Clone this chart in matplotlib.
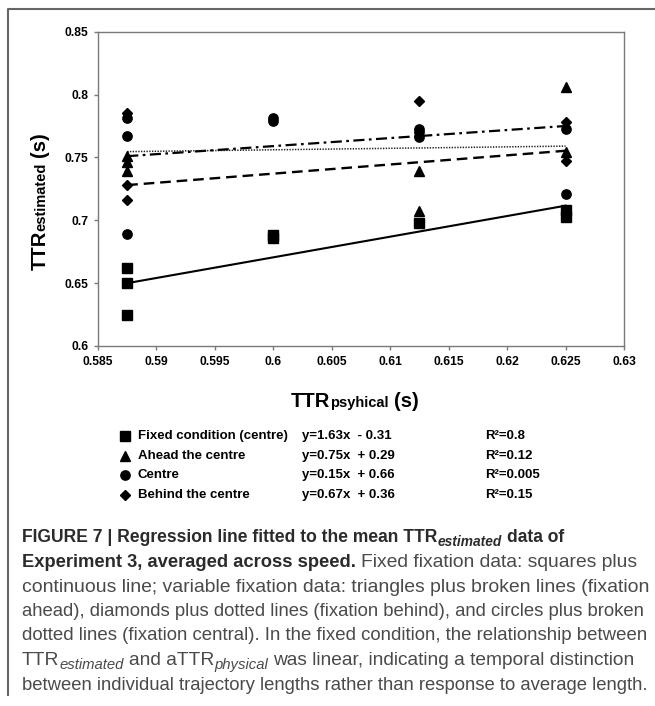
import matplotlib
matplotlib.use("Agg")
import matplotlib.pyplot as plt
from matplotlib.lines import Line2D
from matplotlib.ticker import FormatStrFormatter, MultipleLocator

W, H, DPI = 655, 706, 100
FONT = "Liberation Sans"

# --- data ---------------------------------------------------------------
fixed_x = [0.5875, 0.5875, 0.5875, 0.6, 0.6, 0.6125, 0.625, 0.625]
fixed_y = [0.662, 0.650, 0.625, 0.688, 0.686, 0.698, 0.708, 0.703]

ahead_x = [0.5875, 0.5875, 0.5875, 0.6125, 0.6125, 0.625, 0.625]
ahead_y = [0.751, 0.746, 0.739, 0.739, 0.707, 0.806, 0.754]

centre_x = [0.5875, 0.5875, 0.5875, 0.6, 0.6, 0.6125, 0.6125, 0.6125, 0.625, 0.625]
centre_y = [0.781, 0.767, 0.689, 0.781, 0.779, 0.773, 0.770, 0.766, 0.773, 0.721]

behind_x = [0.5875, 0.5875, 0.5875, 0.6125, 0.625, 0.625]
behind_y = [0.785, 0.728, 0.716, 0.795, 0.778, 0.747]

# regression line end points (x from first to last level)
fit_x = [0.5875, 0.625]
fixed_fit = [0.650, 0.7116]
ahead_fit = [0.728, 0.7553]
centre_fit = [0.7546, 0.759]
behind_fit = [0.751, 0.775]

legend_names = ["Fixed condition (centre)", "Ahead the centre", "Centre", "Behind the centre"]
legend_eqs = ["y=1.63x  - 0.31", "y=0.75x  + 0.29", "y=0.15x  + 0.66", "y=0.67x  + 0.36"]
legend_r2 = ["R\u00b2=0.8", "R\u00b2=0.12", "R\u00b2=0.005", "R\u00b2=0.15"]

fig = plt.figure(figsize=(W / DPI, H / DPI), dpi=DPI)
fig.patch.set_facecolor("white")


def fx(x):
    return x / W


def fy(y):
    return 1 - y / H


ax = fig.add_axes([fx(98), fy(346), (624 - 98) / W, (346 - 31.7) / H])

ax.plot(fit_x, fixed_fit, color="black", lw=1.5, ls="-")
ax.plot(fit_x, ahead_fit, color="black", lw=1.7, ls=(0, (4.5, 2.5)))
ax.plot(fit_x, centre_fit, color="#222222", lw=1.1, ls=(0, (0.9, 0.9)))
ax.plot(fit_x, behind_fit, color="black", lw=1.6, ls=(0, (5, 2, 1.2, 2)))

ax.plot(fixed_x, fixed_y, ls="none", marker="s", ms=7.3, color="black", zorder=3)
ax.plot(ahead_x, ahead_y, ls="none", marker="^", ms=7, color="black", zorder=3)
ax.plot(centre_x, centre_y, ls="none", marker="o", ms=6.7, color="black", zorder=3)
ax.plot(behind_x, behind_y, ls="none", marker="D", ms=5, color="black", zorder=3)

ax.set_xlim(0.585, 0.63)
ax.set_ylim(0.6, 0.85)
ax.xaxis.set_major_locator(MultipleLocator(0.005))
ax.yaxis.set_major_locator(MultipleLocator(0.05))
ax.xaxis.set_major_formatter(FormatStrFormatter("%g"))
ax.yaxis.set_major_formatter(FormatStrFormatter("%g"))
for s in ax.spines.values():
    s.set_color("#7a7a7a")
    s.set_linewidth(1.0)
ax.tick_params(direction="out", length=3, width=1, color="#7a7a7a",
               labelsize=8.7, pad=4)
for lab in ax.get_xticklabels() + ax.get_yticklabels():
    lab.set_fontfamily(FONT)
    lab.set_fontweight("bold")

# outer frame (top and left edges)
fig.add_artist(Line2D([fx(7.5), fx(7.5), fx(655)], [fy(695), fy(9), fy(9)],
                      transform=fig.transFigure, color="#666666", lw=1.5))

renderer = fig.canvas.get_renderer()


def space_width(size, weight, style):
    a = fig.text(0, 0, "a a", fontsize=size, fontweight=weight, fontstyle=style, family=FONT)
    b = fig.text(0, 0, "aa", fontsize=size, fontweight=weight, fontstyle=style, family=FONT)
    w = a.get_window_extent(renderer).width - b.get_window_extent(renderer).width
    a.remove()
    b.remove()
    return w


def runs(x, y, parts, rotation=0, center=False, width=None):
    """Place text pieces one after another along a baseline (pixel coords).

    parts: (text, size, weight, style, dy, color).  With `width`, all sizes
    are scaled so the line spans that many pixels.
    """
    made = []
    pos = 0.0
    for text, size, weight, style, dy, color in parts:
        lead = text.startswith(" ")
        trail = text.endswith(" ")
        body = text.strip(" ")
        sw = space_width(size, weight, style)
        if lead:
            pos += sw
        if rotation == 0:
            t = fig.text(fx(x + pos), fy(y + dy), body, fontsize=size, fontweight=weight,
                         fontstyle=style, family=FONT, color=color,
                         ha="left", va="baseline")
            adv = t.get_window_extent(renderer).width
        else:
            t = fig.text(fx(x - dy), fy(y - pos), body, fontsize=size, fontweight=weight,
                         fontstyle=style, family=FONT, color=color, rotation=90,
                         rotation_mode="anchor", ha="left", va="baseline")
            adv = t.get_window_extent(renderer).height
        made.append((t, pos, dy))
        pos += adv
        if trail:
            pos += sw
    if width is not None:
        k = width / pos
        for t, _, _ in made:
            t.remove()
        scaled = [(p[0], p[1] * k, p[2], p[3], p[4], p[5]) for p in parts]
        return runs(x, y, scaled, rotation=rotation, center=center)
    if center:
        for t, p, dy in made:
            if rotation == 0:
                t.set_position((fx(x + p - pos / 2), fy(y + dy)))
            else:
                t.set_position((fx(x - dy), fy(y - p + pos / 2)))
    return pos


def B(text, size=14.5):
    return (text, size, "bold", "normal", 0, "black")


# axis labels
runs(355, 407, [B("TTR"), B("psyhical", 10.5), B(" (s)")], center=True)
runs(45.5, 201, [B("TTR"), B("estimated", 10.5), B(" (s)")], rotation=90, center=True)

# legend block under the axes
markers = ["s", "^", "o", "D"]
msizes = [7.3, 7, 6.7, 5]
row_y = [436, 455.7, 475.4, 495]
for m, ms, yy, name, eq, r2 in zip(markers, msizes, row_y, legend_names, legend_eqs, legend_r2):
    fig.add_artist(Line2D([fx(125)], [fy(yy)], marker=m, ms=ms, color="black",
                          ls="none", transform=fig.transFigure))
    for xx, s in [(138, name), (302, eq), (485, r2)]:
        fig.text(fx(xx), fy(yy), s, fontsize=9.5, fontweight="bold", family=FONT,
                 ha="left", va="center", color="black")

# caption
CB, CR = "#2b2b2b", "#4a4a4a"
bs, bss = 12.7, 10.0   # bold size, bold subscript size
rs, rss = 13.3, 10.3   # regular size, regular subscript size


def bold(t, sub=False):
    return (t, bss if sub else bs, "bold", "italic" if sub else "normal", 4 if sub else 0, CB)


def reg(t, sub=False):
    return (t, rss if sub else rs, "normal", "italic" if sub else "normal", 4 if sub else 0, CR)


X0 = 22
caption = [
    (542.5, 566, [bold("FIGURE 7 | Regression line fitted to the mean TTR"),
                  bold("estimated", True), bold(" data of")]),
    (567, 640, [bold("Experiment 3, averaged across speed."),
                reg(" Fixed fixation data: squares plus")]),
    (591.5, 647, [reg("continuous line; variable fixation data: triangles plus broken lines (fixation")]),
    (616, 645, [reg("ahead), diamonds plus dotted lines (fixation behind), and circles plus broken")]),
    (640.5, 648, [reg("dotted lines (fixation central). In the fixed condition, the relationship between")]),
    (665, 636, [reg("TTR"), reg("estimated", True), reg(" and aTTR"), reg("physical", True),
                reg(" was linear, indicating a temporal distinction")]),
    (689.5, 650, [reg("between individual trajectory lengths rather than response to average length.")]),
]
for yy, right, parts in caption:
    runs(X0, yy, parts, width=right - X0)

fig.savefig("out.png", dpi=DPI, facecolor="white")
